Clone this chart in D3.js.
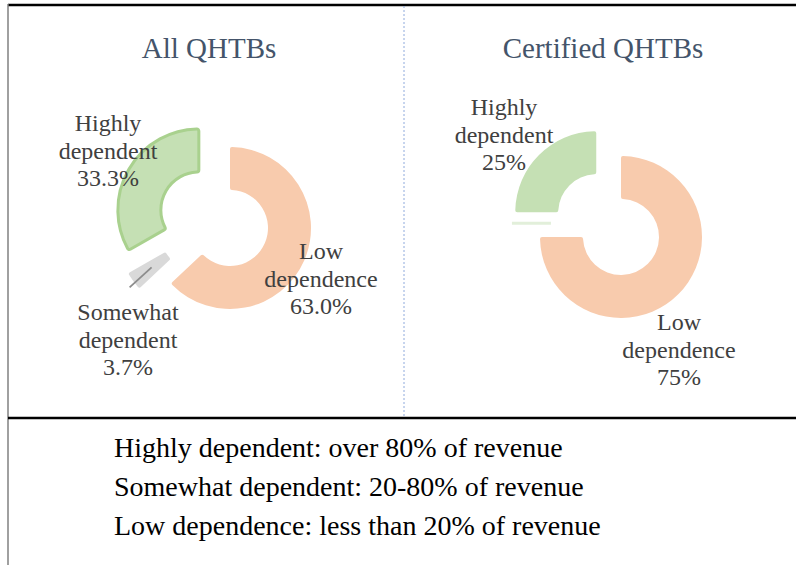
<!DOCTYPE html>
<html>
<head>
<meta charset="utf-8">
<script src="https://cdn.jsdelivr.net/npm/d3@7"></script>
<style>
  body { margin: 0; background: #fff; }
  text { font-family: "Liberation Serif", "Times New Roman", serif; }
</style>
</head>
<body>
<div id="svgDiv"></div>
<script>
// data
var categories = ['Low dependence', 'Somewhat dependent', 'Highly dependent']
var panelTitles = ['All QHTBs', 'Certified QHTBs']
var allShares = [63.0, 3.7, 33.3]
var certifiedShares = [75, 0, 25]
var allLabels = ['63.0%', '3.7%', '33.3%']
var certifiedLabels = ['75%', '', '25%']
var definitions = [
  'Highly dependent: over 80% of revenue',
  'Somewhat dependent: 20-80% of revenue',
  'Low dependence: less than 20% of revenue'
]

var W = 796, H = 565
var rOut = 81, rIn = 38

var color = d3.scaleOrdinal()
  .domain(categories)
  .range(['#f8cbad', '#d9d9d9', '#c5e0b4'])

var svg = d3.select('#svgDiv')
  .append('svg')
  .attr('width', W)
  .attr('height', H)

// frame lines
svg.append('line').attr('x1', 8).attr('x2', W).attr('y1', 5).attr('y2', 5)
  .attr('stroke', '#000').attr('stroke-width', 2.5)
svg.append('line').attr('x1', 8).attr('x2', 8).attr('y1', 4).attr('y2', H)
  .attr('stroke', '#808080').attr('stroke-width', 1.5)
svg.append('line').attr('x1', 8).attr('x2', W).attr('y1', 418).attr('y2', 418)
  .attr('stroke', '#000').attr('stroke-width', 2.5)
svg.append('line').attr('x1', 404).attr('x2', 404).attr('y1', 6).attr('y2', 417)
  .attr('stroke', '#8faadc').attr('stroke-width', 1).attr('stroke-dasharray', '2,2')

var pie = d3.pie().sort(null).value(d => d.value)
var arc = d3.arc().innerRadius(rIn).outerRadius(rOut).cornerRadius(2)

// panel layout (style, not data)
var panels = [
  {
    title: panelTitles[0], titleX: 209, cx: 230, cy: 228,
    shares: allShares, labels: allLabels,
    explode: {
      'Somewhat dependent': {dist: 32, angle: 261},
      'Highly dependent': {dist: 36}
    },
    stroke: {'Highly dependent': '#a9d18e'},
    labelPos: {
      'Low dependence': [321, 259],
      'Somewhat dependent': [128, 320],
      'Highly dependent': [108, 131]
    },
    leader: 'Somewhat dependent'
  },
  {
    title: panelTitles[1], titleX: 603, cx: 621, cy: 237,
    shares: certifiedShares, labels: certifiedLabels,
    explode: {
      'Somewhat dependent': {dist: 34, angle: 294},
      'Highly dependent': {dist: 35}
    },
    stroke: {},
    labelPos: {
      'Low dependence': [679, 330],
      'Highly dependent': [504, 115]
    },
    zeroColor: '#e2efda'
  }
]

panels.forEach(function(p){
  svg.append('text')
    .attr('x', p.titleX)
    .attr('y', 58)
    .attr('text-anchor', 'middle')
    .style('font-size', '29px')
    .style('fill', '#44546a')
    .text(p.title)

  var rows = categories.map((c, i) => ({name: c, value: p.shares[i], label: p.labels[i]}))
  var arcs = pie(rows)

  var offset = function(d){
    var e = p.explode[d.data.name]
    if (!e) return [0, 0]
    var a = (e.angle !== undefined ? e.angle : (d.startAngle + d.endAngle) / 2 * 180 / Math.PI) * Math.PI / 180
    return [e.dist * Math.sin(a), -e.dist * Math.cos(a)]
  }

  var g = svg.append('g').attr('transform', `translate(${p.cx},${p.cy})`)

  g.selectAll('path')
    .data(arcs.filter(d => d.value > 0))
    .enter()
    .append('path')
    .attr('transform', d => `translate(${offset(d)})`)
    .attr('d', arc)
    .attr('fill', d => color(d.data.name))
    .attr('stroke', d => p.stroke[d.data.name] || 'none')
    .attr('stroke-width', 3)

  // zero-valued slice shows as a thin sliver
  g.selectAll('line.zero')
    .data(arcs.filter(d => d.value === 0))
    .enter()
    .append('line')
    .attr('class', 'zero')
    .attr('transform', d => `translate(${offset(d)})`)
    .attr('x1', d => (rIn + 1) * Math.sin(d.startAngle))
    .attr('y1', d => -(rIn + 1) * Math.cos(d.startAngle))
    .attr('x2', d => (rOut - 3) * Math.sin(d.startAngle))
    .attr('y2', d => -(rOut - 3) * Math.cos(d.startAngle))
    .attr('stroke', p.zeroColor)
    .attr('stroke-width', 3)

  if (p.leader) {
    var ld = arcs.find(d => d.data.name === p.leader)
    var c = arc.centroid(ld), o = offset(ld)
    g.append('line')
      .attr('x1', c[0] + o[0] + 1)
      .attr('y1', c[1] + o[1] - 1)
      .attr('x2', c[0] + o[0] - 21)
      .attr('y2', c[1] + o[1] + 19)
      .attr('stroke', '#8c8c8c')
      .attr('stroke-width', 1.8)
  }

  arcs.filter(d => p.labelPos[d.data.name]).forEach(function(d){
    var pos = p.labelPos[d.data.name]
    var words = d.data.name.split(' ')
    var t = svg.append('text')
      .attr('text-anchor', 'middle')
      .style('font-size', '24px')
      .style('fill', '#404040')
    words.concat([d.data.label]).forEach(function(w, i){
      t.append('tspan').attr('x', pos[0]).attr('y', pos[1] + i * 27.5).text(w)
    })
  })
})

svg.selectAll('text.def')
  .data(definitions)
  .enter()
  .append('text')
  .attr('class', 'def')
  .attr('x', 114)
  .attr('y', (d, i) => 457 + i * 39)
  .style('font-size', '28px')
  .style('fill', '#000')
  .text(d => d)
</script>
</body>
</html>
